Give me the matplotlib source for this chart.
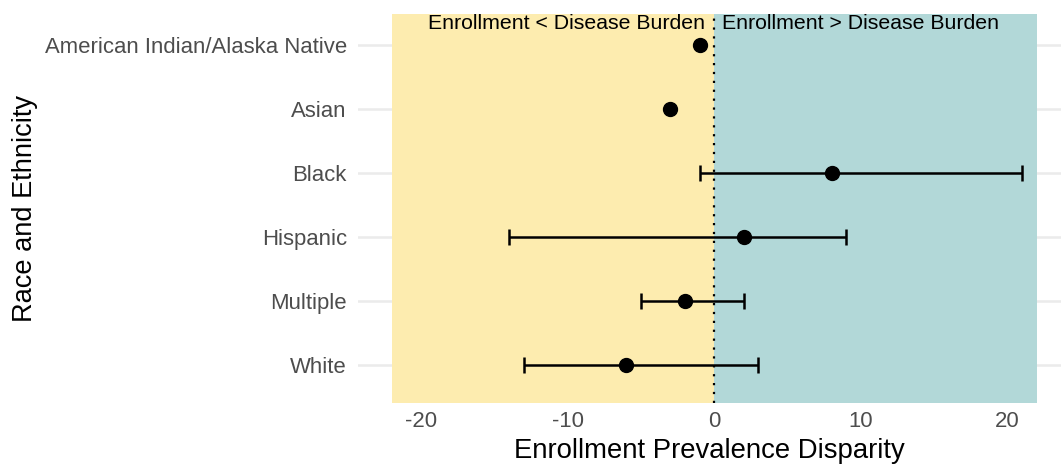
import numpy as np
import matplotlib
matplotlib.use("Agg")
import matplotlib.pyplot as plt

plt.rcParams['font.family'] = ['Liberation Sans', 'DejaVu Sans']

# data, top to bottom
groups = ['American Indian/Alaska Native', 'Asian', 'Black', 'Hispanic', 'Multiple', 'White']
disparity = [-1, -3, 8, 2, -2, -6]
ci_low = [np.nan, np.nan, -1, -14, -5, -13]
ci_high = [np.nan, np.nan, 21, 9, 2, 3]
xticks = [-20, -10, 0, 10, 20]

fig = plt.figure(figsize=(10.61, 4.72), dpi=100)
ax = fig.add_axes([0.3374, 0.146, 0.6626, 0.824])

ypos = np.arange(len(groups))

# shaded halves
ax.axvspan(-22, 0, color='#FDECAF', zorder=1, lw=0)
ax.axvspan(0, 22, color='#B2D8D8', zorder=1, lw=0)

for y in ypos:
    ax.axhline(y, color='#ebebeb', lw=1.8, zorder=0)

ax.axvline(0, color='black', ls=(0, (1, 3)), lw=1.6, zorder=2)

lo = np.array(ci_low, dtype=float)
hi = np.array(ci_high, dtype=float)
val = np.array(disparity, dtype=float)
mask = ~np.isnan(lo)
ax.errorbar(val[mask], ypos[mask], xerr=[val[mask] - lo[mask], hi[mask] - val[mask]],
            fmt='none', ecolor='black', elinewidth=1.8, capsize=5.5, capthick=1.8, zorder=3)
ax.plot(val, ypos, 'o', color='black', ms=10, zorder=4)

ax.text(-0.6, -0.33, 'Enrollment < Disease Burden', ha='right', va='center', fontsize=15.3, color='black', zorder=5)
ax.text(0.55, -0.33, 'Enrollment > Disease Burden', ha='left', va='center', fontsize=15.3, color='black', zorder=5)

ax.set_xlim(-24.3, 23.65)
ax.set_ylim(5.6, -0.48)
ax.set_yticks(ypos)
ax.set_yticklabels(groups)
ax.set_xticks(xticks)
ax.set_xticklabels([str(t) for t in xticks])
ax.tick_params(axis='y', length=0, labelsize=15.9, colors='#4d4d4d', pad=8)
ax.tick_params(axis='x', length=0, labelsize=15.9, colors='#4d4d4d', pad=6)
for s in ax.spines.values():
    s.set_visible(False)

ax.set_xlabel('Enrollment Prevalence Disparity', fontsize=19.8, color='black', labelpad=4)
fig.text(0.024, 0.558, 'Race and Ethnicity', rotation=90, ha='center', va='center', fontsize=19.6)

fig.savefig('out.png', dpi=100)
